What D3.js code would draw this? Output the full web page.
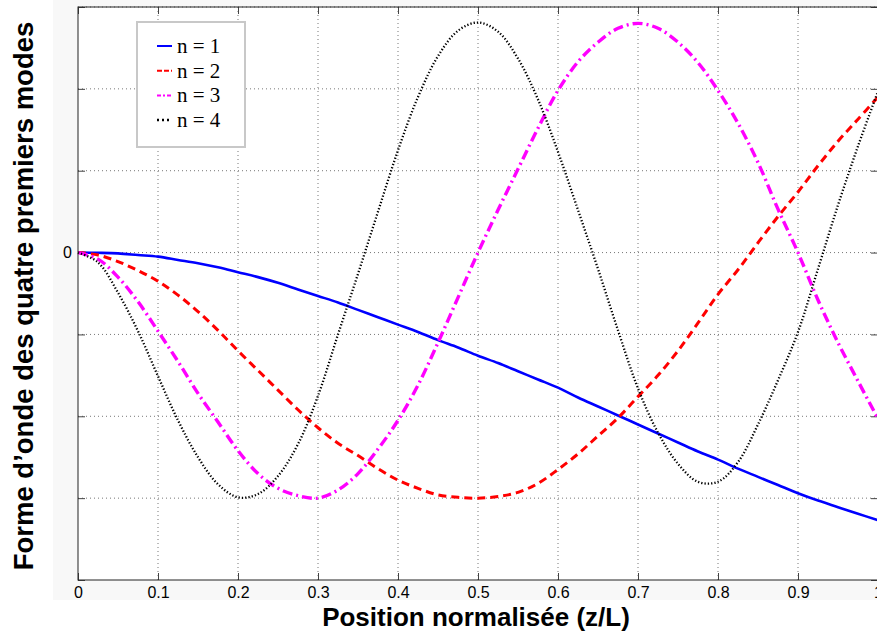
<!DOCTYPE html>
<html>
<head>
<meta charset="utf-8">
<script src="https://cdn.jsdelivr.net/npm/d3@7"></script>
<style>
    body { margin: 0; background: #fff; }
    .tick text { font-family: "Liberation Sans", Arial, sans-serif; font-size: 16px; fill: #000; }
    .axis path { display: none; }
    .axis line { stroke: #444; }
    .grid line { stroke: #777; stroke-width: 1; stroke-dasharray: 1,3; }
    .axis-label { font-family: "Liberation Sans", Arial, sans-serif; font-weight: bold; font-size: 26px; fill: #000; }
    .legend-text { font-family: "Liberation Serif", "Times New Roman", serif; font-size: 21px; fill: #000; }
</style>
</head>
<body>
<div id="chart"></div>
<script>
// positions along the beam (z/L)
const zValues = [0, 0.025, 0.05, 0.075, 0.1, 0.125, 0.15, 0.175, 0.2, 0.225, 0.25, 0.275, 0.3, 0.325, 0.35,
    0.375, 0.4, 0.425, 0.45, 0.475, 0.5, 0.525, 0.55, 0.575, 0.6, 0.625, 0.65, 0.675, 0.7, 0.725, 0.75,
    0.775, 0.8, 0.825, 0.85, 0.875, 0.9, 0.925, 0.95, 0.975, 1];

// mode shapes
const mode1 = [0, -0.003, -0.01, -0.03, -0.05, -0.09, -0.13, -0.18, -0.24, -0.3, -0.37, -0.45, -0.53, -0.61, -0.7,
    -0.79, -0.88, -0.97, -1.07, -1.16, -1.26, -1.35, -1.45, -1.55, -1.65, -1.77, -1.88, -1.99, -2.1, -2.21, -2.32,
    -2.43, -2.53, -2.64, -2.74, -2.84, -2.94, -3.03, -3.11, -3.19, -3.27];
const mode2 = [0, -0.03, -0.11, -0.22, -0.35, -0.52, -0.72, -0.95, -1.2, -1.44, -1.68, -1.92, -2.14, -2.33, -2.48,
    -2.64, -2.78, -2.88, -2.96, -2.99, -3.0, -2.98, -2.93, -2.82, -2.65, -2.46, -2.24, -2.02, -1.76, -1.5, -1.2,
    -0.86, -0.51, -0.21, 0.12, 0.44, 0.74, 1.06, 1.36, 1.63, 1.9];
const mode3 = [0, -0.08, -0.3, -0.6, -0.96, -1.33, -1.72, -2.07, -2.42, -2.7, -2.88, -2.97, -3.0, -2.9, -2.7,
    -2.4, -2.05, -1.62, -1.1, -0.55, 0, 0.52, 1.02, 1.52, 1.98, 2.33, 2.57, 2.74, 2.8, 2.74, 2.57,
    2.32, 1.98, 1.58, 1.1, 0.53, 0, -0.58, -1.1, -1.57, -2.03];
const mode4 = [0, -0.12, -0.49, -0.96, -1.51, -2.05, -2.5, -2.83, -2.99, -2.95, -2.73, -2.34, -1.75, -1.0, -0.26,
    0.5, 1.25, 1.9, 2.4, 2.71, 2.81, 2.7, 2.37, 1.87, 1.23, 0.52, -0.2, -0.95, -1.66, -2.2, -2.58,
    -2.8, -2.8, -2.56, -2.1, -1.56, -0.97, -0.2, 0.58, 1.3, 1.97];

const seriesNames = ["n = 1", "n = 2", "n = 3", "n = 4"];
const seriesColors = ["#0000ff", "#ff0000", "#ff00ff", "#000000"];

// tick values and labels
const xTicks = [0, 0.1, 0.2, 0.3, 0.4, 0.5, 0.6, 0.7, 0.8, 0.9, 1];
const xTickLabels = ["0", "0.1", "0.2", "0.3", "0.4", "0.5", "0.6", "0.7", "0.8", "0.9", "1"];
const yTicks = [-4, -3, -2, -1, 0, 1, 2, 3];
const yTickLabels = ["", "", "", "", "0", "", "", ""];

const xTitle = "Position normalisée (z/L)";
const yTitle = "Forme d\u2019onde des quatre premiers modes";

// SVG size
const width_raw = 877, height_raw = 633;
const margin = {top: 7, left: 78};
const width = 800, height = 573;

let root = d3.select("#chart")
    .append("svg")
    .attr("width", width_raw)
    .attr("height", height_raw);

// light figure background like matlab export
root.append("rect")
    .attr("x", 53).attr("y", 0)
    .attr("width", width_raw - 53).attr("height", 600)
    .attr("fill", "#f8f8f8");

let svg = root.append("g")
    .attr("transform", `translate(${margin.left}, ${margin.top})`);

svg.append("rect")
    .attr("width", width).attr("height", height)
    .attr("fill", "#fff");

// Scales
let xScale = d3.scaleLinear().domain([0, 1]).range([0, width]);
let yScale = d3.scaleLinear().domain([-4, 3]).range([height, 0]);

// Grid
svg.append("g")
    .attr("class", "grid")
    .selectAll("line.v")
    .data(xTicks.slice(1, -1))
    .enter().append("line")
    .attr("x1", d => xScale(d)).attr("x2", d => xScale(d))
    .attr("y1", 0).attr("y2", height);

svg.append("g")
    .attr("class", "grid")
    .selectAll("line.h")
    .data(yTicks.slice(1))
    .enter().append("line")
    .attr("x1", 0).attr("x2", width)
    .attr("y1", d => yScale(d)).attr("y2", d => yScale(d));

// Axes (ticks point inward)
svg.append("g")
    .attr("class", "axis x-axis")
    .attr("transform", `translate(0, ${height})`)
    .call(d3.axisBottom(xScale).tickValues(xTicks).tickSize(-7).tickPadding(7)
        .tickFormat((d, i) => xTickLabels[i]));

svg.append("g")
    .attr("class", "axis")
    .call(d3.axisTop(xScale).tickValues(xTicks).tickSize(-7).tickFormat(""));

svg.append("g")
    .attr("class", "axis y-axis")
    .call(d3.axisLeft(yScale).tickValues(yTicks).tickSize(-7).tickPadding(6)
        .tickFormat((d, i) => yTickLabels[i]));

svg.append("g")
    .attr("class", "axis")
    .attr("transform", `translate(${width}, 0)`)
    .call(d3.axisRight(yScale).tickValues(yTicks).tickSize(-7).tickFormat(""));

// Curves
let modes = [mode1, mode2, mode3, mode4];
let dashes = [null, "8,5", "10,4,2,4", "1.3,2"];
let widths = [2.6, 3, 3.4, 2.3];

let line = d3.line()
    .x(d => xScale(d[0]))
    .y(d => yScale(d[1]))
    .curve(d3.curveCatmullRom);

let plot = svg.append("g");
modes.forEach((m, i) => {
    plot.append("path")
        .datum(zValues.map((z, j) => [z, m[j]]))
        .attr("fill", "none")
        .attr("stroke", seriesColors[i])
        .attr("stroke-width", widths[i])
        .attr("stroke-dasharray", dashes[i])
        .attr("d", line);
});

// Box
svg.append("rect")
    .attr("width", width).attr("height", height)
    .attr("fill", "none")
    .attr("stroke", "#222")
    .attr("stroke-width", 1);

// Legend
let legend = root.append("g")
    .attr("transform", "translate(137, 22)");

legend.append("rect")
    .attr("width", 108).attr("height", 125)
    .attr("fill", "#fff")
    .attr("stroke", "#c8c8c8")
    .attr("stroke-width", 2);

let legendDash = [null, "5,2", "4,2,2,2", "2,3"];
seriesNames.forEach((name, i) => {
    let yy = 24 + i * 24.7;
    legend.append("line")
        .attr("x1", 20).attr("x2", 35)
        .attr("y1", yy).attr("y2", yy)
        .attr("stroke", seriesColors[i])
        .attr("stroke-width", i === 3 ? 2.5 : 2)
        .attr("stroke-dasharray", legendDash[i]);
    legend.append("text")
        .attr("class", "legend-text")
        .attr("x", 40)
        .attr("y", yy + 7)
        .text(name);
});

// Axis titles
root.append("text")
    .attr("class", "axis-label")
    .attr("x", 476)
    .attr("y", 626)
    .attr("text-anchor", "middle")
    .text(xTitle);

root.append("text")
    .attr("class", "axis-label")
    .attr("transform", "translate(33, 296) rotate(-90)")
    .attr("text-anchor", "middle")
    .style("font-size", "27.5px")
    .text(yTitle);
</script>
</body>
</html>
